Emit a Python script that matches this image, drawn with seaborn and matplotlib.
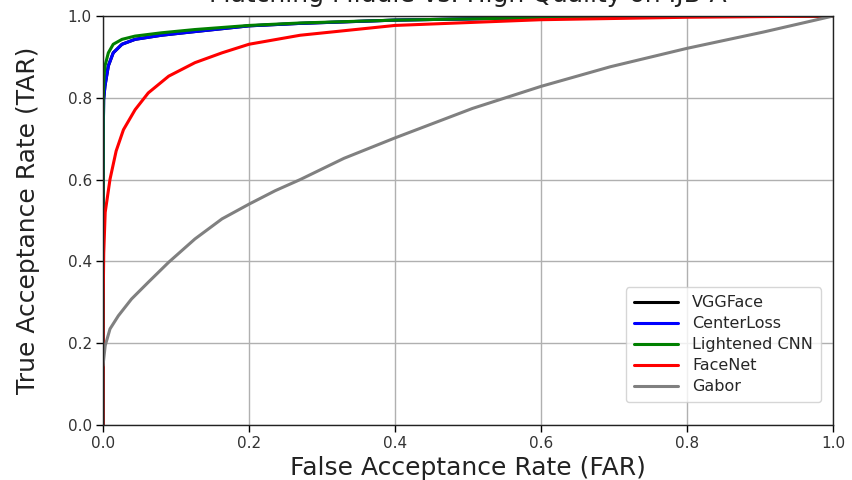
import numpy as np
import pandas as pd
import matplotlib
matplotlib.use("Agg")
import matplotlib.pyplot as plt
import seaborn as sns

# ---- data ----
far_gabor = [0.0, 0.003, 0.0096, 0.021, 0.039, 0.062, 0.090, 0.126, 0.163, 0.200, 0.236,
             0.270, 0.33, 0.40, 0.506, 0.60, 0.695, 0.80, 0.905, 1.0]
tar_gabor = [0.145, 0.194, 0.235, 0.267, 0.308, 0.349, 0.398, 0.455, 0.504, 0.540, 0.573,
             0.600, 0.652, 0.702, 0.774, 0.828, 0.876, 0.921, 0.961, 1.0]

far_facenet = [0.0, 0.0002, 0.001, 0.003, 0.0096, 0.018, 0.028, 0.044, 0.062, 0.090, 0.126,
               0.163, 0.200, 0.27, 0.40, 0.60, 0.80, 1.0]
tar_facenet = [0.0, 0.30, 0.42, 0.52, 0.601, 0.67, 0.722, 0.771, 0.812, 0.853, 0.886,
               0.910, 0.931, 0.953, 0.977, 0.991, 0.997, 1.0]

far_center = [0.0, 0.0003, 0.0009, 0.0027, 0.0073, 0.014, 0.026, 0.044, 0.080, 0.126,
              0.200, 0.27, 0.40, 0.60, 0.80, 1.0]
tar_center = [0.0, 0.70, 0.796, 0.829, 0.878, 0.910, 0.931, 0.943, 0.953, 0.962,
              0.976, 0.982, 0.990, 0.996, 0.999, 1.0]

far_vgg = far_center
tar_vgg = tar_center

far_light = [0.0, 0.0003, 0.0014, 0.0027, 0.0073, 0.014, 0.026, 0.044, 0.080, 0.126,
             0.200, 0.27, 0.40, 0.60, 0.80, 1.0]
tar_light = [0.0, 0.80, 0.853, 0.878, 0.910, 0.931, 0.943, 0.951, 0.959, 0.967,
             0.977, 0.983, 0.990, 0.996, 0.999, 1.0]

methods = ["VGGFace", "CenterLoss", "Lightened CNN", "FaceNet", "Gabor"]
colors = ["black", "blue", "green", "red", "gray"]
ticks = [0.0, 0.2, 0.4, 0.6, 0.8, 1.0]

frames = []
for name, fx, fy in [("VGGFace", far_vgg, tar_vgg), ("CenterLoss", far_center, tar_center),
                     ("Lightened CNN", far_light, tar_light), ("FaceNet", far_facenet, tar_facenet),
                     ("Gabor", far_gabor, tar_gabor)]:
    frames.append(pd.DataFrame({"FAR": fx, "TAR": fy, "Method": name}))
df = pd.concat(frames, ignore_index=True)

sns.set_style("white")
plt.rcParams['font.family'] = ['DejaVu Sans']

fig = plt.figure(figsize=(8.52, 4.8), dpi=100)
ax = fig.add_axes([0.1209, 0.1146, 0.8568, 0.852])

sns.lineplot(data=df, x="FAR", y="TAR", hue="Method", hue_order=methods,
             palette=dict(zip(methods, colors)), sort=False, estimator=None,
             linewidth=2.2, ax=ax)

ax.set_xlim(0, 1)
ax.set_ylim(0, 1)
ax.set_xticks(ticks)
ax.set_yticks(ticks)
ax.set_xticklabels([f"{t:.1f}" for t in ticks])
ax.set_yticklabels([f"{t:.1f}" for t in ticks])
ax.grid(True, color="#b0b0b0", linewidth=1)
ax.set_axisbelow(True)
ax.tick_params(axis="both", labelsize=11, direction="out", length=5, width=1,
               left=True, bottom=True, colors="black", labelcolor="#333333", pad=3)
for s in ax.spines.values():
    s.set_color("#222222")
    s.set_linewidth(1)

ax.set_xlabel("False Acceptance Rate (FAR)", fontsize=18, color="#222222", labelpad=3.5)
ax.set_ylabel("True Acceptance Rate (TAR)", fontsize=18, color="#222222", labelpad=20)
ax.set_title("Matching Middle vs. High Quality on IJB-A", fontsize=18, color="#222222", pad=10)

leg = ax.legend(loc="lower right", fontsize=11.5, frameon=True, borderaxespad=0,
                bbox_to_anchor=(0.9835, 0.056), handlelength=2.75, labelspacing=0.37,
                handletextpad=0.9, borderpad=0.5)
leg.get_frame().set_edgecolor("#cccccc")
for line in leg.get_lines():
    line.set_linewidth(2.2)

fig.savefig("out.png", dpi=100)
